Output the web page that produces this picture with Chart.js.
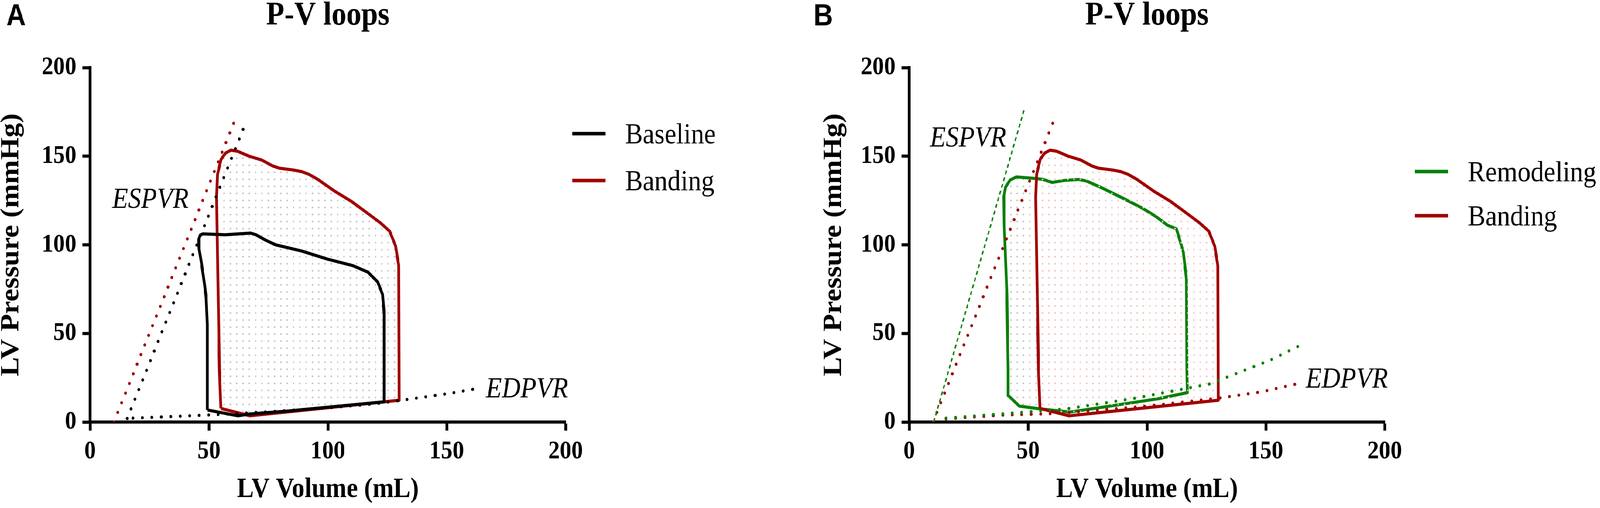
<!DOCTYPE html>
<html lang="en">
<head>
<meta charset="UTF-8" />
<title>P-V loops</title>
<script src="https://cdn.jsdelivr.net/npm/chart.js"></script>
<style>
  html, body { margin: 0; padding: 0; background: #fff; overflow: hidden; }
  #stage { position: absolute; left: 0; top: 0; width: 4563px; height: 1300px; transform-origin: 0 0; }
  .panel { position: absolute; top: 0; height: 1300px; }
</style>
</head>
<body>

<div id="stage">
  <!-- Panel A: baseline vs banding -->
  <div class="panel" style="left:0;width:2280px"><canvas id="chartA" width="2280" height="1300"></canvas></div>
  <!-- Panel B: remodeling vs banding -->
  <div class="panel" style="left:2280px;width:2283px"><canvas id="chartB" width="2283" height="1300"></canvas></div>
</div>

<script>
  // ---------- data (LV volume in mL, LV pressure in mmHg) ----------
  const chartTitle = 'P-V loops';
  const xTicks = [0, 50, 100, 150, 200];
  const yTicks = [0, 50, 100, 150, 200];

  const baselineV = [49.3, 49.3, 48.8, 48.2, 46.8, 45.8, 45.7, 46.3, 47.4, 56.8, 67.5, 69.7, 74, 78, 89, 99.7, 110.4, 116.8, 121, 123, 123.7, 123.7, 104, 82.5, 67.5, 62.2, 49.3];
  const baselineP = [6.8, 55, 70, 77, 90, 98, 103, 105.5, 106.2, 105.7, 106.6, 105.7, 102.5, 100, 96.5, 92, 88.3, 84.6, 79, 72, 61, 11.4, 8.9, 6.1, 4.6, 3.5, 6.8];

  const bandingV = [55, 54.4, 53.8, 53.2, 53.6, 55.1, 57, 59.2, 62, 66.9, 72.1, 76.8, 79.7, 85.6, 89, 92, 95.8, 102.6, 109.8, 116.2, 122.1, 126, 128.5, 129.8, 130, 117.9, 94.2, 67.2, 55];
  const bandingP = [7.7, 28.7, 76.5, 127, 139.8, 148.3, 151.8, 153.4, 152.8, 150, 147.9, 144.5, 143.2, 142.2, 141.3, 139.8, 136.9, 130.5, 124.6, 118.3, 112.4, 107.7, 99.3, 88.3, 12.3, 10.6, 7.3, 3.5, 7.7];

  const remodelingV = [41.7, 41.6, 41.1, 40, 39.8, 40.5, 42.4, 45, 52.6, 56, 60.2, 65, 71.2, 74.6, 81.4, 89.9, 98.4, 103.5, 108.6, 112.4, 115.3, 116.6, 116.8, 117, 105, 83.4, 67.5, 55.2, 46.3, 41.7];
  const remodelingP = [14.9, 28.7, 71.4, 110, 127, 132.5, 136.5, 138.3, 137.5, 137, 135.2, 136.3, 136.9, 136, 131.9, 126.3, 120.4, 116.2, 111.1, 109, 95.9, 80.7, 28.7, 16.6, 13.2, 8.8, 5.6, 7.4, 9.0, 14.9];

  // ESPVR (end-systolic) lines
  const espvrBaselineV = [15.6, 65.5];
  const espvrBaselineP = [2, 169];
  const espvrBandingV = [10, 60.8];
  const espvrBandingP = [0, 170];
  const espvrRemodelingV = [10.3, 48.5];
  const espvrRemodelingP = [0, 177];

  // EDPVR (end-diastolic) curves
  const edpvrBaselineV = [18, 40, 60, 80, 100, 120, 131, 151, 162];
  const edpvrBaselineP = [2.2, 3.4, 4.6, 6.2, 8.0, 10.3, 12.3, 16.1, 18.7];
  const edpvrBandingV = [15.5, 39, 62, 100, 130.8, 148, 163];
  const edpvrBandingP = [1.8, 3.9, 4.8, 9, 13.6, 17, 21.5];
  const edpvrRemodelingV = [15.5, 39, 66, 94, 126.5, 141, 152, 164];
  const edpvrRemodelingP = [2.2, 4.6, 7.4, 13.2, 21.5, 29.2, 35, 43];

  // the drawing is laid out at 4563x1300; stretch it onto the real viewport
  const sx = window.innerWidth / 4563;
  const sy = window.innerHeight / 1300;
  document.getElementById('stage').style.transform = 'scale(' + sx + ',' + sy + ')';

  // ---------- styles ----------
  const serif = "'Liberation Serif', 'Times New Roman', Times, 'DejaVu Serif', serif";
  const BLACK = '#000000';
  const RED = '#a00000';
  const GREEN = '#078007';

  const pts = (v, p) => v.map((x, i) => ({ x, y: p[i] }));

  function dotPattern(color) {
    const c = document.createElement('canvas');
    c.width = 18; c.height = 18;
    const g = c.getContext('2d');
    g.fillStyle = color;
    g.fillRect(7, 7, 4, 4);
    return g.createPattern(c, 'repeat');
  }

  function loop(label, v, p, color, pattern) {
    return {
      label, data: pts(v, p), showLine: true, tension: 0,
      borderColor: color, borderWidth: 8, borderJoinStyle: 'round',
      pointRadius: 0, fill: pattern ? 'shape' : false,
      backgroundColor: pattern || 'rgba(0,0,0,0)'
    };
  }
  function dotted(v, p, color) {
    return {
      data: pts(v, p), showLine: true, borderColor: color, borderWidth: 8,
      borderDash: [0.01, 27], borderCapStyle: 'round', pointRadius: 0, fill: false
    };
  }
  function dashed(v, p, color) {
    return {
      data: pts(v, p), showLine: true, borderColor: color, borderWidth: 4,
      borderDash: [10, 8], pointRadius: 0, fill: false
    };
  }

  function axis(title, isY, yWidth) {
    return {
      type: 'linear', min: 0, max: 200,
      afterBuildTicks: s => { s.ticks = (isY ? yTicks : xTicks).map(v => ({ value: v })); },
      afterFit: s => { if (isY) s.width = yWidth; else s.height = 220; },
      grid: { display: true, drawOnChartArea: false, drawTicks: true, tickLength: 22, tickWidth: 8, tickColor: BLACK },
      border: { display: true, color: BLACK, width: 8 },
      ticks: { color: BLACK, padding: isY ? 17 : 14, font: { family: serif, size: 66, weight: 'bold' } },
      title: {
        display: true, text: title, color: BLACK,
        padding: isY ? { top: 0, bottom: 0 } : { top: 0, bottom: 3 },
        font: isY ? { family: serif, size: 74, weight: 'bold', lineHeight: 0.9 }
                  : { family: serif, size: 72, weight: 'bold' }
      }
    };
  }

  // letter, title, legend and ESPVR / EDPVR labels
  const pvExtras = {
    id: 'pvExtras',
    afterDraw(chart, args, o) {
      const { ctx, chartArea, scales: { x, y } } = chart;
      ctx.save();
      ctx.textBaseline = 'alphabetic';
      ctx.fillStyle = BLACK;

      ctx.textAlign = 'left';
      ctx.font = "bold 77px 'Liberation Sans', Arial, sans-serif";
      ctx.fillText(o.letter, o.letterX, 65);

      ctx.textAlign = 'center';
      ctx.font = 'normal bold 85px ' + serif;
      ctx.fillText(chartTitle, (chartArea.left + chartArea.right) / 2, 63);

      ctx.textAlign = 'left';
      ctx.font = 'italic normal 74px ' + serif;
      ctx.fillText('ESPVR', x.getPixelForValue(o.espvrAt[0]), y.getPixelForValue(o.espvrAt[1]));
      ctx.fillText('EDPVR', x.getPixelForValue(o.edpvrAt[0]), y.getPixelForValue(o.edpvrAt[1]));

      const items = chart.data.datasets.filter(d => d.label);
      items.sort((a, b) => a.legendRank - b.legendRank);
      ctx.font = 'normal normal 75px ' + serif;
      items.forEach((d, i) => {
        const ly = o.legendY[i];
        ctx.fillStyle = d.borderColor;
        ctx.fillRect(o.legendX, ly - 4.5, 95, 9);
        ctx.fillStyle = BLACK;
        ctx.fillText(d.label, o.legendX + 151, ly + 25);
      });
      ctx.restore();
    }
  };

  const common = {
    responsive: false,
    animation: false,
    events: [],
    plugins: { legend: { display: false }, title: { display: false }, tooltip: { enabled: false } }
  };

  // ---------- panel A ----------
  const baseLoop = loop('Baseline', baselineV, baselineP, BLACK, null);
  baseLoop.legendRank = 0;
  const bandLoopA = loop('Banding', bandingV, bandingP, RED, dotPattern('#c6c6c6'));
  bandLoopA.legendRank = 1;

  new Chart(document.getElementById('chartA'), {
    type: 'scatter',
    data: {
      datasets: [
        dotted(espvrBaselineV, espvrBaselineP, BLACK),
        dotted(espvrBandingV, espvrBandingP, RED),
        dotted(edpvrBaselineV, edpvrBaselineP, BLACK),
        baseLoop,
        bandLoopA
      ]
    },
    options: {
      ...common,
      layout: { padding: { left: 0, top: 173, right: 667, bottom: 0 } },
      scales: { x: axis('LV Volume (mL)', false), y: axis('LV Pressure (mmHg)', true, 257) },
      plugins: {
        ...common.plugins,
        pvExtras: { letter: 'A', letterX: 18, legendX: 1632, legendY: [342, 462], espvrAt: [9.3, 120.8], edpvrAt: [166.5, 13.9] }
      }
    },
    plugins: [pvExtras]
  });

  // ---------- panel B ----------
  const bandLoopB = loop('Banding', bandingV, bandingP, RED, dotPattern('#f5c4c4'));
  bandLoopB.legendRank = 1;
  const remodLoop = loop('Remodeling', remodelingV, remodelingP, GREEN, dotPattern('#c6c6c6'));
  remodLoop.legendRank = 0;

  new Chart(document.getElementById('chartB'), {
    type: 'scatter',
    data: {
      datasets: [
        dashed(espvrRemodelingV, espvrRemodelingP, GREEN),
        dotted(espvrBandingV, espvrBandingP, RED),
        dotted(edpvrRemodelingV, edpvrRemodelingP, GREEN),
        dotted(edpvrBandingV, edpvrBandingP, RED),
        bandLoopB,
        remodLoop
      ]
    },
    options: {
      ...common,
      layout: { padding: { left: 66, top: 173, right: 614, bottom: 0 } },
      scales: { x: axis('LV Volume (mL)', false), y: axis('LV Pressure (mmHg)', true, 247) },
      plugins: {
        ...common.plugins,
        pvExtras: { letter: 'B', letterX: 40, legendX: 1755, legendY: [439, 552], espvrAt: [8.7, 155.5], edpvrAt: [166.8, 19.4] }
      }
    },
    plugins: [pvExtras]
  });
</script>
</body>
</html>
